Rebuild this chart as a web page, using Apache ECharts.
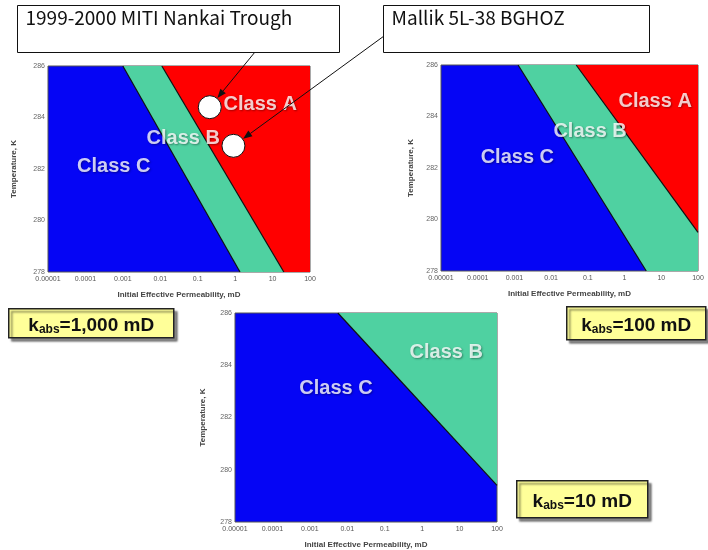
<!DOCTYPE html>
<html>
<head>
<meta charset="utf-8">
<script src="https://cdn.jsdelivr.net/npm/echarts@6/dist/echarts.min.js"></script>
<style>
  html, body { margin: 0; padding: 0; background: #fff; }
  #chart { width: 708px; height: 550px; }
</style>
</head>
<body>
<div id="chart"></div>
<script>
// Hydrate class maps: initial effective permeability (mD, log scale) vs temperature (K)
const permTickLabels = ['0.00001', '0.0001', '0.001', '0.01', '0.1', '1', '10', '100'];
const permRange = [0.00001, 100];
const tempRange = [278, 286];

// Class boundaries as [permeability, temperature] end points
const cbBoundary1000 = [[0.001, 286], [1.35, 278]];
const baBoundary1000 = [[0.011, 286], [20, 278]];
const cbBoundary100 = [[0.00126, 286], [3.9, 278]];
const baBoundary100 = [[0.048, 286], [100, 279.5]];
const cbBoundary10 = [[0.0056, 286], [100, 279.4]];

// Field sites plotted on the 1,000 mD map
const siteNames = ['1999-2000 MITI Nankai Trough', 'Mallik 5L-38 BGHOZ'];
const sitePoints = [[0.21, 284.4], [0.9, 282.9]];

// Class label anchors per map
const classLabels1000 = [['Class A', 4.7, 284.5], ['Class B', 0.041, 283.2], ['Class C', 0.00057, 282.1]];
const classLabels100 = [['Class A', 6.8, 284.6], ['Class B', 0.115, 283.4], ['Class C', 0.0012, 282.4]];
const classLabels10 = [['Class B', 4.4, 284.5], ['Class C', 0.005, 283.1]];

const kabsValues = ['1,000', '100', '10'];

const BLUE = '#0505f5', GREEN = '#4fd1a1', RED = '#ff0000';
const SANS = 'Liberation Sans, Arial, sans-serif';

const grids = [
  { left: 48, top: 66, width: 262, height: 206 },
  { left: 441, top: 65, width: 257, height: 206 },
  { left: 235, top: 313, width: 262, height: 209 }
];
const yNameGaps = [30, 26, 28];

const chart = echarts.init(document.getElementById('chart'), null, { renderer: 'canvas' });

function regionSeries(idx, boundary, color) {
  // filled from the boundary up to the top of the temperature axis
  const pts = boundary.slice();
  const last = pts[pts.length - 1];
  if (last[0] < permRange[1]) pts.push([permRange[1], last[1]]);
  return {
    type: 'line', xAxisIndex: idx, yAxisIndex: idx, data: pts,
    showSymbol: false, silent: true, animation: false, z: 2,
    lineStyle: { width: 0 },
    areaStyle: { color: color, opacity: 1, origin: 'end' }
  };
}
function boundarySeries(idx, boundary) {
  return {
    type: 'line', xAxisIndex: idx, yAxisIndex: idx, data: boundary,
    showSymbol: false, silent: true, animation: false, z: 3,
    lineStyle: { color: '#111', width: 1.2 }
  };
}
function labelSeries(idx, labels) {
  return {
    type: 'scatter', xAxisIndex: idx, yAxisIndex: idx, symbolSize: 0, z: 6,
    silent: true, animation: false,
    data: labels.map(l => ({ name: l[0], value: [l[1], l[2]] })),
    label: {
      show: true, position: 'inside', formatter: p => p.name,
      color: '#fff', fontSize: 20, fontWeight: 'bold', fontFamily: SANS,
      textShadowColor: 'rgba(0,0,0,0.45)', textShadowBlur: 2, textShadowOffsetX: 1, textShadowOffsetY: 1
    }
  };
}

const xAxes = grids.map((g, i) => ({
  type: 'log', logBase: 10, gridIndex: i, min: permRange[0], max: permRange[1], interval: 1,
  name: 'Initial Effective Permeability, mD', nameLocation: 'middle', nameGap: 19,
  nameTextStyle: { fontSize: 8, fontWeight: 'bold', color: '#444', fontFamily: SANS },
  axisLine: { show: false }, axisTick: { show: false }, splitLine: { show: false },
  axisLabel: {
    fontSize: 7, color: '#555', margin: 4, fontFamily: SANS,
    formatter: v => permTickLabels[Math.round(Math.log10(v)) + 5]
  }
}));
const yAxes = grids.map((g, i) => ({
  type: 'value', gridIndex: i, min: tempRange[0], max: tempRange[1], interval: 2,
  name: 'Temperature, K', nameLocation: 'middle', nameGap: yNameGaps[i],
  nameTextStyle: { fontSize: 8, fontWeight: 'bold', color: '#444', fontFamily: SANS },
  axisLine: { show: false }, axisTick: { show: false }, splitLine: { show: false },
  axisLabel: { fontSize: 7, color: '#666', margin: 3, fontFamily: SANS }
}));

function kabsBox(id, x, y, w, h, value) {
  const big = { fontSize: 19, fontWeight: 'bold', fill: '#111', fontFamily: SANS, lineHeight: 22, verticalAlign: 'bottom' };
  return {
    type: 'group', id: id, left: x, top: y, z: 50,
    children: [
      { type: 'rect', shape: { x: 0, y: 0, width: w, height: h },
        style: { fill: '#ffff99', stroke: '#222', lineWidth: 1.5,
                 shadowColor: 'rgba(0,0,0,0.45)', shadowBlur: 2, shadowOffsetX: 3, shadowOffsetY: 3 } },
      { type: 'text', x: w / 2, y: h / 2 + 1,
        style: {
          text: '{k|k}{s|abs}{v|=' + value + ' mD}', align: 'center', verticalAlign: 'middle',
          rich: {
            k: big,
            s: { fontSize: 12, fontWeight: 'bold', fill: '#111', fontFamily: SANS, lineHeight: 10, verticalAlign: 'bottom' },
            v: big
          }
        } }
    ]
  };
}

function calloutBox(id, x, y, w, h, text) {
  return {
    type: 'group', id: id, left: x, top: y, z: 40,
    children: [
      { type: 'rect', shape: { x: 0, y: 0, width: w, height: h },
        style: { fill: '#fff', stroke: '#111', lineWidth: 1 } },
      { type: 'text', x: 8, y: 3,
        style: { text: text, fontSize: 19, fill: '#111', fontFamily: 'Noto Sans CJK JP, sans-serif' } }
    ]
  };
}

chart.setOption({
  animation: false,
  backgroundColor: '#fff',
  grid: grids.map(g => Object.assign({ show: true, backgroundColor: BLUE, borderColor: '#555', borderWidth: 1 }, g)),
  xAxis: xAxes,
  yAxis: yAxes,
  series: [
    regionSeries(0, cbBoundary1000, GREEN),
    regionSeries(0, baBoundary1000, RED),
    boundarySeries(0, cbBoundary1000),
    boundarySeries(0, baBoundary1000),
    regionSeries(1, cbBoundary100, GREEN),
    regionSeries(1, baBoundary100, RED),
    boundarySeries(1, cbBoundary100),
    boundarySeries(1, baBoundary100),
    regionSeries(2, cbBoundary10, GREEN),
    boundarySeries(2, cbBoundary10),
    labelSeries(0, classLabels1000),
    labelSeries(1, classLabels100),
    labelSeries(2, classLabels10),
    {
      type: 'scatter', xAxisIndex: 0, yAxisIndex: 0, z: 8, silent: true, animation: false,
      data: sitePoints, symbolSize: 23,
      itemStyle: { color: '#fff', borderColor: '#111', borderWidth: 1, opacity: 1 }
    }
  ]
});

// Callout boxes, permeability boxes and leader arrows from each site callout to its point
const graphics = [
  calloutBox('callout0', 17, 5, 322, 47, siteNames[0]),
  calloutBox('callout1', 383, 5, 266, 47, siteNames[1]),
  kabsBox('kabs0', 8, 308, 165, 29, kabsValues[0]),
  kabsBox('kabs1', 566, 306, 139, 33, kabsValues[1]),
  kabsBox('kabs2', 516, 480, 131, 37, kabsValues[2])
];
const arrowStarts = [[255, 52], [384, 36]];
sitePoints.forEach((p, i) => {
  const t = chart.convertToPixel({ gridIndex: 0 }, p);
  const s = arrowStarts[i];
  const dx = t[0] - s[0], dy = t[1] - s[1];
  const len = Math.sqrt(dx * dx + dy * dy);
  const ux = dx / len, uy = dy / len;
  const r = 12;
  const ex = t[0] - ux * r, ey = t[1] - uy * r;
  const hl = 9, hw = 3.5;
  const bx = ex - ux * hl, by = ey - uy * hl;
  graphics.push({
    type: 'line', id: 'arrowLine' + i, z: 60, silent: true,
    shape: { x1: s[0], y1: s[1], x2: bx, y2: by },
    style: { stroke: '#111', lineWidth: 1 }
  });
  graphics.push({
    type: 'polygon', id: 'arrowHead' + i, z: 60, silent: true,
    shape: { points: [[ex, ey], [bx - uy * hw, by + ux * hw], [bx + uy * hw, by - ux * hw]] },
    style: { fill: '#111' }
  });
});
chart.setOption({ graphic: graphics });
</script>
</body>
</html>
